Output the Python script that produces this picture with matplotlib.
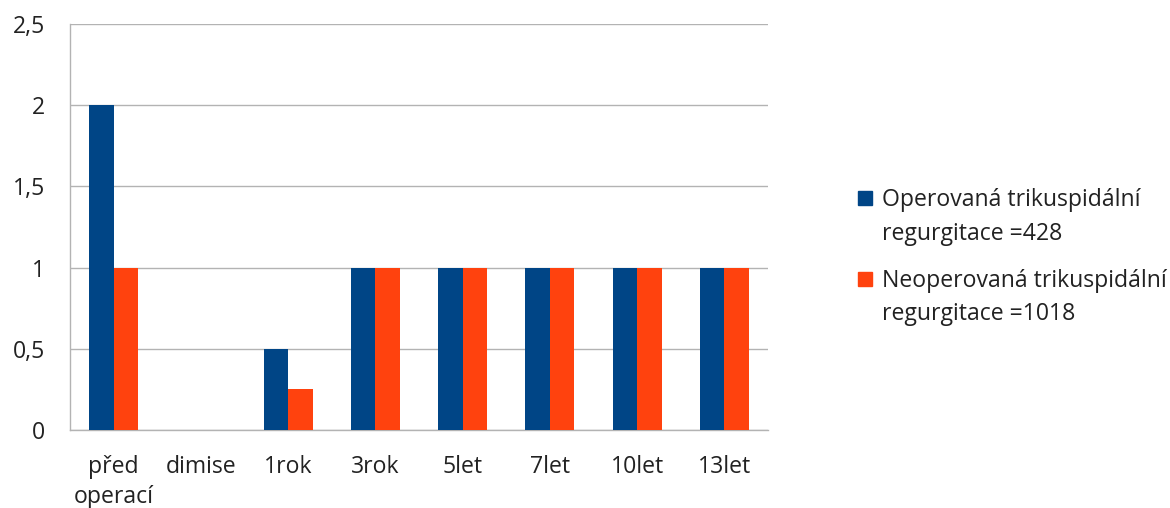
import matplotlib
matplotlib.use("Agg")
import matplotlib.pyplot as plt
from matplotlib.patches import Rectangle
import numpy as np

categories = ["před\noperací", "dimise", "1rok", "3rok", "5let", "7let", "10let", "13let"]
operovana = [2, 0, 0.5, 1, 1, 1, 1, 1]
neoperovana = [1, 0, 0.25, 1, 1, 1, 1, 1]
series_names = ["Operovaná trikuspidální\nregurgitace =428", "Neoperovaná trikuspidální\nregurgitace =1018"]
series_colors = ["#004586", "#ff420e"]
yticks = [0, 0.5, 1, 1.5, 2, 2.5]
ytick_labels = ["0", "0,5", "1", "1,5", "2", "2,5"]

plt.rcParams['font.family'] = ['Open Sans', 'DejaVu Sans']
FS = 16.6
TXT = '#222222'

W, H = 1170, 508
fig = plt.figure(figsize=(W/100, H/100), dpi=100)
ax = fig.add_axes([70/W, 1-430/H, (768-70)/W, (430-24)/H])

x = np.arange(len(categories))
w = 0.28
ax.bar(x - w/2, operovana, w, color=series_colors[0], zorder=3)
ax.bar(x + w/2, neoperovana, w, color=series_colors[1], zorder=3)

ax.set_xlim(-0.5, len(categories) - 0.5)
ax.set_ylim(0, 2.5)
ax.set_yticks(yticks)
ax.set_yticklabels(ytick_labels)
ax.set_xticks(x)
ax.set_xticklabels(categories, linespacing=1.35)
ax.tick_params(axis='both', length=0, labelsize=FS, colors=TXT)
ax.tick_params(axis='y', pad=18)
ax.tick_params(axis='x', pad=18)
ax.yaxis.grid(True, color="#b3b3b3", linewidth=1, zorder=0)
for s in ["top", "right"]:
    ax.spines[s].set_visible(False)
for s in ["left", "bottom"]:
    ax.spines[s].set_color("#b3b3b3")
    ax.spines[s].set_linewidth(1)

# manual legend (marker aligned with first text line, as in the reference)
entry_baselines = [[206, 240], [287, 320]]
for name, col, bls in zip(series_names, series_colors, entry_baselines):
    lines = name.split("\n")
    fig.patches.append(Rectangle((858/W, 1-(bls[0]-1)/H), 14/W, 14/H,
                                 transform=fig.transFigure, color=col))
    for ln, bl in zip(lines, bls):
        fig.text(882/W, 1-bl/H, ln, fontsize=FS, color=TXT, va='baseline', ha='left')

fig.savefig("out.png", dpi=100)
